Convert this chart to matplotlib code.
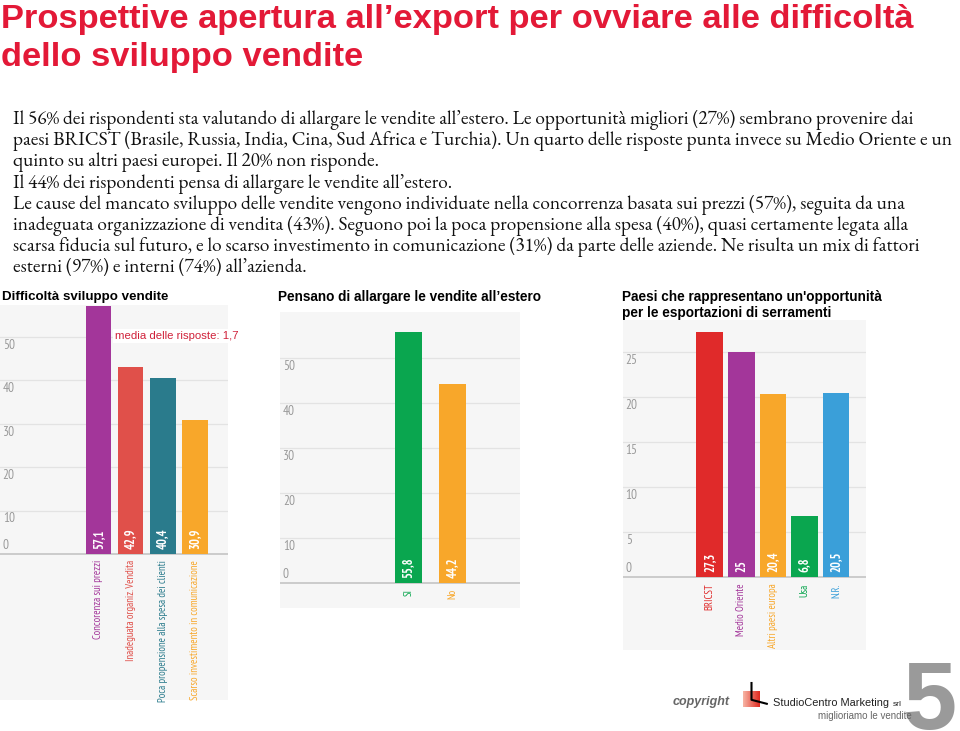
import numpy as np
import matplotlib
matplotlib.use("Agg")
import matplotlib.pyplot as plt

# ---- data ----
diff_labels = ["Concorenza sui prezzi", "Inadeguata organiz. Vendita",
               "Poca propensione alla spesa dei clienti", "Scarso investimento in comunicazione"]
diff_values = [57.1, 42.9, 40.4, 30.9]
diff_colors = ["#a3369a", "#e0504a", "#2a7b8c", "#f8a72a"]

estero_labels = ["SI", "No"]
estero_values = [55.8, 44.2]
estero_colors = ["#0aa64f", "#f8a72a"]

paesi_labels = ["BRICST", "Medio Oriente", "Altri paesi europa", "Usa", "N.R."]
paesi_values = [27.3, 25, 20.4, 6.8, 20.5]
paesi_colors = ["#e02a2a", "#a3369a", "#f8a72a", "#0aa64f", "#3a9fd9"]

body_lines = [
    "Il 56% dei rispondenti sta valutando di allargare le vendite all’estero. Le opportunità migliori (27%) sembrano provenire dai",
    "paesi BRICST (Brasile, Russia, India, Cina, Sud Africa e Turchia). Un quarto delle risposte punta invece su Medio Oriente e un",
    "quinto su altri paesi europei. Il 20% non risponde.",
    "Il 44% dei rispondenti pensa di allargare le vendite all’estero.",
    "Le cause del mancato sviluppo delle vendite vengono individuate nella concorrenza basata sui prezzi (57%), seguita da una",
    "inadeguata organizzazione di vendita (43%). Seguono poi la poca propensione alla spesa (40%), quasi certamente legata alla",
    "scarsa fiducia sul futuro, e lo scarso investimento in comunicazione (31%) da parte delle aziende. Ne risulta un mix di fattori",
    "esterni (97%) e interni (74%) all’azienda.",
]

W, H = 960, 731
fig = plt.figure(figsize=(9.6, 7.31), dpi=100)
fig.patch.set_facecolor("white")

NARROW = ["PT Sans Narrow", "Liberation Sans", "DejaVu Sans"]
SANS = ["Liberation Sans", "DejaVu Sans"]
SERIF = ["EB Garamond", "Liberation Serif", "DejaVu Serif"]


def fx(px):
    return px / W


def fy(py):
    return 1 - py / H


# title
fig.text(fx(1), fy(28), "Prospettive apertura all’export per ovviare alle difficoltà",
         family=SANS, weight="bold", fontsize=24.8, color="#e31937", va="baseline")
fig.text(fx(1), fy(66), "dello sviluppo vendite",
         family=SANS, weight="bold", fontsize=24.8, color="#e31937", va="baseline")

# body
for i, line in enumerate(body_lines):
    fig.text(fx(13), fy(120 + 21.2 * i), line, family=SERIF, fontsize=13.9,
             color="#111111", va="center")


def bar_panel(box, base, ppu, c0, step, bw, labels, values, colors, ticks):
    left, top, right, bottom = box
    ax = fig.add_axes([fx(left), fy(bottom), fx(right - left), (bottom - top) / H])
    ax.set_facecolor("#f6f6f6")
    ax.set_ylim(-(bottom - base) / ppu, (base - top) / ppu)
    ax.set_xlim((left - c0) / step, (right - c0) / step)
    for s in ax.spines.values():
        s.set_visible(False)
    ax.set_xticks([])
    ax.set_yticks([])
    for t in ticks:
        ax.axhline(t, color="#c4c4c4" if t == 0 else "#e3e3e3", lw=1.2 if t == 0 else 0.9, zorder=1)
        ax.text(0.012, t + (2 if t == 0 else -2) / ppu, str(t), transform=ax.get_yaxis_transform(),
                family=NARROW, fontsize=9.5, color="#9a9a9a",
                va="bottom" if t == 0 else "top", ha="left")
    x = np.arange(len(values))
    ax.bar(x, values, width=bw / step, color=colors, zorder=2)
    for xi, v, lab, c in zip(x, values, labels, colors):
        ax.text(xi, 5 / ppu, f"{v:g}".replace(".", ","), rotation=90, ha="center", va="bottom",
                family=NARROW, weight="bold", fontsize=9, color="white", zorder=3)
        ax.text(xi, -6 / ppu, lab, rotation=90, ha="center", va="top",
                family=NARROW, fontsize=7.7, color=c)
    return ax


# chart titles
fig.text(fx(2), fy(297), "Difficoltà sviluppo vendite", family=SANS, weight="bold",
         fontsize=9.6, va="center")
fig.text(fx(278), fy(297), "Pensano di allargare le vendite all’estero", family=SANS,
         weight="bold", fontsize=9.8, va="center")
fig.text(fx(622), fy(297), "Paesi che rappresentano un'opportunità", family=SANS,
         weight="bold", fontsize=9.8, va="center")
fig.text(fx(622), fy(313), "per le esportazioni di serramenti", family=SANS,
         weight="bold", fontsize=9.8, va="center")

bar_panel((0, 305, 228, 700), 554, 4.35, 98.4, 32.2, 25.6,
          diff_labels, diff_values, diff_colors, [0, 10, 20, 30, 40, 50])
bar_panel((280, 312, 520, 608), 582.7, 4.5, 408.3, 44, 26.7,
          estero_labels, estero_values, estero_colors, [0, 10, 20, 30, 40, 50])
bar_panel((622.7, 320, 865.7, 650), 577.3, 9.0, 709.7, 31.6, 26.5,
          paesi_labels, paesi_values, paesi_colors, [0, 5, 10, 15, 20, 25])

# media annotation
fig.text(fx(115), fy(336), "media delle risposte: 1,7", family=SANS, fontsize=8.2,
         color="#d0213a", va="center",
         bbox=dict(facecolor="white", edgecolor="none", pad=1.5))

# footer
fig.text(fx(673), fy(702), "copyright", family=SANS, style="italic", weight="bold",
         fontsize=9, color="#666666", va="center")
lax = fig.add_axes([fx(743), fy(707), fx(17), 16 / H])
grad = np.linspace(0, 1, 50)[None, :] * np.ones((50, 1))
lax.imshow(grad, cmap=matplotlib.colors.LinearSegmentedColormap.from_list(
    "lg", ["#f7b5a5", "#e02a20"]), aspect="auto", extent=[0, 1, 0, 1])
lax.plot([0.5, 0.5, 1.4], [1.5, 0.45, 0.2], color="black", lw=1.5, clip_on=False)
lax.set_xlim(0, 1)
lax.set_ylim(0, 1)
lax.axis("off")
fig.text(fx(773), fy(703), "StudioCentro Marketing", family=SANS, fontsize=7.9,
         color="#222222", va="center")
fig.text(fx(893), fy(704), "srl", family=SANS, fontsize=6, color="#222222", va="center")
fig.text(fx(912), fy(716), "miglioriamo le vendite", family=SANS, fontsize=7,
         color="#666666", va="center", ha="right")
fig.text(fx(957), fy(729), "5", family=SANS, weight="bold", fontsize=70,
         color="#9a9a9a", ha="right", va="baseline", zorder=0)

fig.savefig("out.png", dpi=100, facecolor="white")
